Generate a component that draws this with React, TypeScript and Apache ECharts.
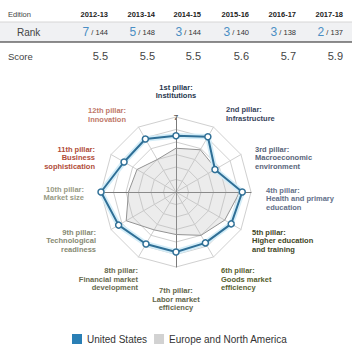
import { useEffect, useRef } from 'react';
import * as echarts from 'echarts';

// ---- data ----
const editions = ['2012-13', '2013-14', '2014-15', '2015-16', '2016-17', '2017-18'];
const ranks = [7, 5, 3, 3, 3, 2];
const totals = [144, 148, 144, 140, 138, 137];
const scores = [5.5, 5.5, 5.5, 5.6, 5.7, 5.9];

const pillarTitles = [
  '1st pillar:', '2nd pillar:', '3rd pillar:', '4th pillar:', '5th pillar:', '6th pillar:',
  '7th pillar:', '8th pillar:', '9th pillar:', '10th pillar:', '11th pillar:', '12th pillar:',
];
const pillarNames = [
  'Institutions', 'Infrastructure', 'Macroeconomic\nenvironment', 'Health and primary\neducation',
  'Higher education\nand training', 'Goods market\nefficiency', 'Labor market\nefficiency',
  'Financial market\ndevelopment', 'Technological\nreadiness', 'Market size', 'Business\nsophistication',
  'Innovation',
];
const usScores = [5.5, 6.1, 4.6, 6.3, 6.1, 5.7, 5.8, 5.8, 6.3, 7.0, 5.8, 5.9];
const regionScores = [4.5, 4.9, 4.7, 6.1, 5.5, 5.0, 4.4, 4.5, 5.6, 4.8, 4.6, 4.0];
const scaleMin = 1;
const scaleMax = 7;
const seriesNames = ['United States', 'Europe and North America'];

// ---- layout / style (not data) ----
const colRight = [108, 155, 201, 249, 296, 343];
const labelLayout: { x: number; y: number; align: 'left' | 'right' | 'center'; color: string }[] = [
  { x: 176, y: 83, align: 'center', color: '#26364e' },
  { x: 226, y: 105.5, align: 'left', color: '#36435a' },
  { x: 255, y: 145, align: 'left', color: '#586479' },
  { x: 266, y: 186, align: 'left', color: '#637089' },
  { x: 252, y: 228, align: 'left', color: '#3e4624' },
  { x: 221, y: 266.5, align: 'left', color: '#56602e' },
  { x: 176, y: 286.5, align: 'center', color: '#62664a' },
  { x: 138, y: 266.5, align: 'right', color: '#676a4e' },
  { x: 96, y: 228, align: 'right', color: '#868a72' },
  { x: 84, y: 185, align: 'right', color: '#979a84' },
  { x: 95, y: 145, align: 'right', color: '#b04c37' },
  { x: 126, y: 106.5, align: 'right', color: '#c07868' },
];

const FONT = '"Liberation Sans", Arial, Helvetica, sans-serif';

export default function App() {
  const ref = useRef<HTMLDivElement>(null);
  useEffect(() => {
    const chart = echarts.init(ref.current!, null, { renderer: 'svg' });
    // ECharts radar runs counter-clockwise; the pillars go clockwise
    const order = [0, ...Array.from({ length: pillarNames.length - 1 }, (_, i) => pillarNames.length - 1 - i)];
    const reorder = (arr: number[]) => order.map((i) => arr[i]);

    const graphic: any[] = [
      { type: 'rect', shape: { x: 0, y: 22, width: 352, height: 20 }, style: { fill: '#f0f1f3' }, silent: true },
      { type: 'line', shape: { x1: 0, y1: 22, x2: 352, y2: 22 }, style: { stroke: '#d6d6d6', lineWidth: 1 } },
      { type: 'line', shape: { x1: 0, y1: 42, x2: 352, y2: 42 }, style: { stroke: '#1e1e1e', lineWidth: 1.2 } },
      { type: 'text', style: { text: 'Edition', x: 8, y: 14, verticalAlign: 'middle', font: `7.5px ${FONT}`, fill: '#444' } },
      { type: 'text', style: { text: 'Rank', x: 17, y: 32, verticalAlign: 'middle', font: `10px ${FONT}`, fill: '#444' } },
      { type: 'text', style: { text: 'Score', x: 8, y: 56, verticalAlign: 'middle', font: `9.5px ${FONT}`, fill: '#444' } },
      { type: 'text', style: { text: String(scaleMax), x: 176, y: 117, align: 'center', verticalAlign: 'middle', font: `bold 8px ${FONT}`, fill: '#555' } },
    ];
    editions.forEach((ed, i) => {
      graphic.push({
        type: 'text',
        style: { text: ed, x: colRight[i], y: 14, align: 'right', verticalAlign: 'middle', font: `bold 7.5px ${FONT}`, fill: '#222' },
      });
      graphic.push({
        type: 'text',
        style: {
          text: `{b|${ranks[i]}}{s| / ${totals[i]}}`,
          x: colRight[i], y: 32, align: 'right', verticalAlign: 'middle',
          rich: {
            b: { fontSize: 12, fontFamily: FONT, fill: '#4a8ec4', color: '#4a8ec4' },
            s: { fontSize: 7.5, fontFamily: FONT, fill: '#333', color: '#333' },
          },
        },
      });
      graphic.push({
        type: 'text',
        style: { text: scores[i].toFixed(1), x: colRight[i], y: 56, align: 'right', verticalAlign: 'middle', font: `11px ${FONT}`, fill: '#444' },
      });
    });
    pillarNames.forEach((n, i) => {
      const l = labelLayout[i];
      graphic.push({
        type: 'text',
        style: {
          text: `${pillarTitles[i]}\n${n}`, x: l.x, y: l.y, align: l.align, verticalAlign: 'top',
          font: `bold 7.5px ${FONT}`, lineHeight: 8.5, fill: l.color,
        },
      });
    });

    const option: any = {
      animation: false,
      backgroundColor: '#fff',
      textStyle: { fontFamily: FONT },
      legend: {
        left: 67, top: 329, itemWidth: 10, itemHeight: 10, itemGap: 7, icon: 'rect',
        textStyle: { fontSize: 10, color: '#333', fontFamily: FONT },
        data: [
          { name: seriesNames[0], itemStyle: { color: '#2a7fb5', borderWidth: 0 } },
          { name: seriesNames[1], itemStyle: { color: '#d2d2d2', borderWidth: 0 } },
        ],
        selectedMode: false,
      },
      radar: [
        {
          center: [176, 192], radius: 75, startAngle: 90, splitNumber: scaleMax - scaleMin, shape: 'polygon',
          indicator: order.map((i) => ({ name: pillarNames[i], min: scaleMin, max: scaleMax })),
          axisName: { show: false },
          splitLine: { lineStyle: { color: '#d0d0d0', width: 1 } },
          splitArea: { show: false },
          axisLine: { lineStyle: { color: '#d0d0d0', width: 1 } },
          axisTick: { show: false }, axisLabel: { show: false },
        },
        {
          center: [176, 192], radius: 75, startAngle: 90, splitNumber: 1, shape: 'polygon',
          indicator: [0, 1, 2, 3].map(() => ({ name: '', min: scaleMin, max: scaleMax })),
          axisName: { show: false },
          splitLine: { show: false }, splitArea: { show: false },
          axisLine: { lineStyle: { color: '#7a7a7a', width: 1 } },
          axisTick: { show: false }, axisLabel: { show: false },
        },
      ],
      series: [
        {
          type: 'radar', radarIndex: 0, name: seriesNames[1], symbol: 'none', silent: true, z: 2,
          lineStyle: { color: '#8e8e8e', width: 1 },
          itemStyle: { color: '#d2d2d2' },
          areaStyle: { color: 'rgba(185,185,185,0.38)' },
          data: [{ value: reorder(regionScores), name: seriesNames[1] }],
        },
        {
          type: 'radar', radarIndex: 0, name: 'halo', symbol: 'none', silent: true, z: 3,
          lineStyle: { color: '#d4edf8', width: 5.5 },
          data: [{ value: reorder(usScores), name: 'halo' }],
        },
        {
          type: 'radar', radarIndex: 0, name: seriesNames[0], symbol: 'circle', symbolSize: 6, z: 4,
          lineStyle: { color: '#2f6f96', width: 2 },
          itemStyle: { color: '#ffffff', borderColor: '#2f6f96', borderWidth: 1.5 },
          data: [{ value: reorder(usScores), name: seriesNames[0] }],
        },
      ],
      graphic,
    };
    chart.setOption(option);
    return () => chart.dispose();
  }, []);
  return (
    <div
      ref={ref}
      style={{ position: 'fixed', left: 0, top: 0, width: 358, height: 364, background: '#fff' }}
    />
  );
}
